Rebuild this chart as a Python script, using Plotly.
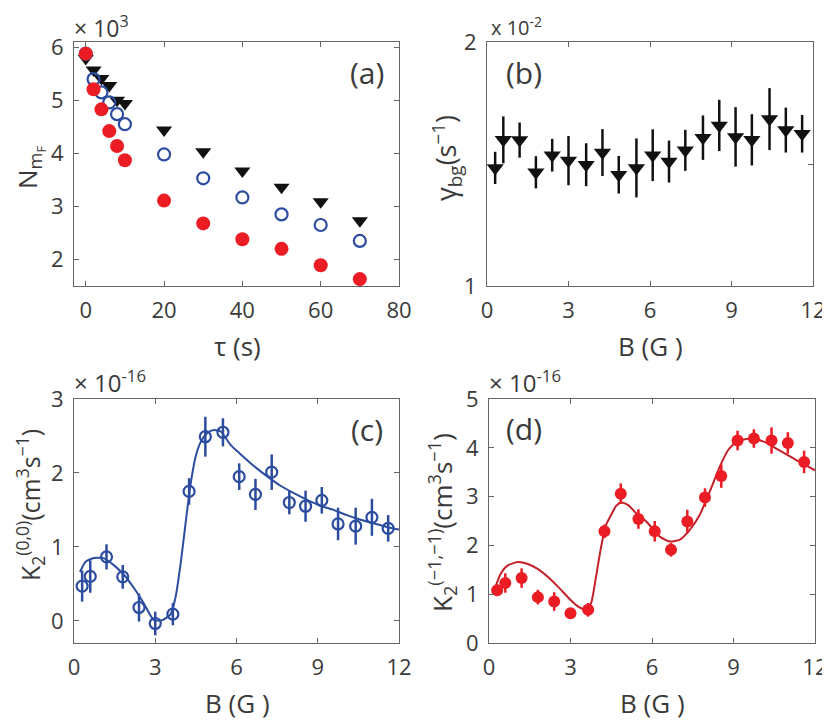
import plotly.graph_objects as go

# (a) atom number vs hold time
tau = [0, 2, 4, 6, 8, 10, 20, 30, 40, 50, 60, 70]
n_tri = [5.79, 5.57, 5.41, 5.28, 5.00, 4.94, 4.44, 4.03, 3.67, 3.36, 3.09, 2.73]
n_open = [5.88, 5.40, 5.15, 4.96, 4.74, 4.55, 3.98, 3.53, 3.17, 2.85, 2.65, 2.35]
n_fill = [5.88, 5.21, 4.83, 4.42, 4.14, 3.87, 3.11, 2.68, 2.38, 2.20, 1.89, 1.63]

# shared magnetic field values for (b), (c), (d)
B = [0.3, 0.6, 1.2, 1.8, 2.4, 3.0, 3.65, 4.25, 4.85, 5.5,
     6.1, 6.7, 7.3, 7.95, 8.55, 9.15, 9.75, 10.4, 11.0, 11.6]

# (b) background loss rate (x 1e-2)
gamma_bg = [1.484, 1.599, 1.598, 1.466, 1.536, 1.514, 1.497, 1.547, 1.456, 1.484,
            1.536, 1.510, 1.556, 1.608, 1.658, 1.611, 1.599, 1.684, 1.639, 1.624]
gamma_err = [0.066, 0.096, 0.072, 0.066, 0.067, 0.101, 0.088, 0.096, 0.077, 0.121,
             0.106, 0.086, 0.084, 0.091, 0.105, 0.122, 0.105, 0.127, 0.092, 0.077]

# (c) K2(0,0) (x 1e-16)
k00 = [0.47, 0.60, 0.865, 0.595, 0.18, -0.036, 0.09, 1.75, 2.49, 2.55,
       1.95, 1.71, 2.01, 1.60, 1.55, 1.63, 1.31, 1.28, 1.40, 1.25]
k00_err = [0.21, 0.22, 0.17, 0.16, 0.19, 0.16, 0.15, 0.18, 0.27, 0.19,
           0.18, 0.21, 0.24, 0.16, 0.21, 0.18, 0.22, 0.25, 0.25, 0.18]
fit_c_B = [0.22, 0.43, 0.74, 1.11, 1.48, 1.85, 2.22, 2.58, 2.95, 3.26, 3.57, 3.75,
           3.94, 4.12, 4.31, 4.49, 4.68, 4.92, 5.17, 5.42, 5.78, 6.13, 6.62, 7.11,
           7.61, 8.10, 8.59, 9.08, 9.58, 10.07, 10.56, 11.05, 11.55, 12.0]
fit_c = [0.66, 0.80, 0.85, 0.845, 0.75, 0.62, 0.44, 0.235, 0.01, 0.01, 0.09, 0.32,
         0.78, 1.32, 1.86, 2.22, 2.42, 2.54, 2.58, 2.56, 2.38, 2.26, 2.10, 1.96,
         1.83, 1.73, 1.64, 1.56, 1.50, 1.43, 1.37, 1.32, 1.27, 1.235]

# (d) K2(-1,-1) (x 1e-16)
k11 = [1.08, 1.23, 1.33, 0.94, 0.85, 0.61, 0.68, 2.29, 3.06, 2.54,
       2.29, 1.91, 2.49, 2.98, 3.42, 4.15, 4.19, 4.15, 4.10, 3.71]
k11_err = [0.12, 0.20, 0.20, 0.15, 0.19, 0.10, 0.14, 0.14, 0.21, 0.20,
           0.21, 0.14, 0.24, 0.19, 0.24, 0.20, 0.19, 0.27, 0.22, 0.23]
fit_d_B = [0.20, 0.44, 0.69, 1.06, 1.43, 1.79, 2.16, 2.53, 2.90, 3.27, 3.58, 3.76,
           3.94, 4.13, 4.31, 4.50, 4.68, 4.86, 5.11, 5.42, 5.79, 6.29, 6.66, 7.03,
           7.39, 7.76, 8.13, 8.50, 8.81, 9.12, 9.48, 9.85, 10.22, 10.59, 10.96,
           11.33, 11.70, 12.0]
fit_d = [1.09, 1.43, 1.59, 1.66, 1.62, 1.52, 1.36, 1.16, 0.94, 0.75, 0.68, 0.82,
         1.36, 1.98, 2.42, 2.63, 2.81, 2.88, 2.83, 2.66, 2.49, 2.18, 2.08, 2.12,
         2.32, 2.63, 3.11, 3.62, 3.96, 4.13, 4.18, 4.17, 4.10, 3.98, 3.86,
         3.74, 3.63, 3.54]

# the page body puts the figure 8 px in from the window corner
PAD = 8
W, H = 830, 721
BLUE = '#2c4c9f'
RED = '#ec1c24'
DRED = '#c4202a'
FONT = 'Open Sans'
TXT = '#3a3a3a'


def px(x):
    return (x - PAD) / W


def py(y):
    return 1 - (y - PAD) / H


fig = go.Figure()

# (a)
fig.add_trace(go.Scatter(x=tau, y=n_tri, mode='markers', xaxis='x', yaxis='y',
                         marker=dict(symbol='triangle-down', size=14, color='#111')))
fig.add_trace(go.Scatter(x=tau, y=n_open, mode='markers', xaxis='x', yaxis='y',
                         marker=dict(symbol='circle-open', size=12, color=BLUE,
                                     line=dict(width=2.2, color=BLUE))))
fig.add_trace(go.Scatter(x=tau, y=n_fill, mode='markers', xaxis='x', yaxis='y',
                         marker=dict(symbol='circle', size=14, color=RED)))

# (b)
fig.add_trace(go.Scatter(x=B, y=gamma_bg, mode='markers', xaxis='x2', yaxis='y2',
                         marker=dict(symbol='triangle-down', size=15, color='#111'),
                         error_y=dict(type='data', array=gamma_err, width=0,
                                      thickness=2.5, color='#111')))

# (c)
fig.add_trace(go.Scatter(x=fit_c_B, y=fit_c, mode='lines', xaxis='x3', yaxis='y3',
                         line=dict(color=BLUE, width=2, shape='spline', smoothing=0.6)))
fig.add_trace(go.Scatter(x=B, y=k00, mode='markers', xaxis='x3', yaxis='y3',
                         marker=dict(symbol='circle-open', size=11, color=BLUE,
                                     line=dict(width=2.2, color=BLUE)),
                         error_y=dict(type='data', array=k00_err, width=0,
                                      thickness=2.5, color=BLUE)))

# (d)
fig.add_trace(go.Scatter(x=fit_d_B, y=fit_d, mode='lines', xaxis='x4', yaxis='y4',
                         line=dict(color=DRED, width=2, shape='spline', smoothing=0.6)))
fig.add_trace(go.Scatter(x=B, y=k11, mode='markers', xaxis='x4', yaxis='y4',
                         marker=dict(symbol='circle', size=12, color=RED),
                         error_y=dict(type='data', array=k11_err, width=0,
                                      thickness=2.5, color=RED)))

ax = dict(showgrid=False, zeroline=False, showline=True, mirror='allticks',
          linecolor='#666', linewidth=1.2, ticks='inside', ticklen=5,
          tickcolor='#666', automargin=False,
          tickfont=dict(family=FONT, size=22, color=TXT))

fig.update_layout(
    width=W, height=H, showlegend=False,
    margin=dict(l=0, r=0, t=0, b=0, pad=0, autoexpand=False),
    plot_bgcolor='white', paper_bgcolor='white',
    xaxis=dict(ax, domain=[px(74), px(399)], range=[-3, 80], tickvals=[0, 20, 40, 60, 80],
               anchor='y', ticklabelstandoff=4),
    yaxis=dict(ax, domain=[py(286), py(42)], range=[1.5, 6.1], tickvals=[2, 3, 4, 5, 6],
               anchor='x', ticklabelstandoff=5),
    xaxis2=dict(ax, domain=[px(487), px(813)], range=[0, 12], tickvals=[0, 3, 6, 9, 12],
                anchor='y2', ticklabelstandoff=4),
    yaxis2=dict(ax, domain=[py(286), py(42)], range=[1, 2], tickvals=[1, 1.5, 2],
                ticktext=['1', '', '2'], anchor='x2', ticklabelstandoff=5),
    xaxis3=dict(ax, domain=[px(74), px(399)], range=[0, 12], tickvals=[0, 3, 6, 9, 12],
                anchor='y3', ticklabelstandoff=4),
    yaxis3=dict(ax, domain=[py(643), py(399)], range=[-0.3, 3], tickvals=[0, 1, 2, 3],
                anchor='x3', ticklabelstandoff=5),
    xaxis4=dict(ax, domain=[px(489), px(815)], range=[0, 12], tickvals=[0, 3, 6, 9, 12],
                anchor='y4', ticklabelstandoff=4),
    yaxis4=dict(ax, domain=[py(643), py(399)], range=[0, 5], tickvals=[0, 1, 2, 3, 4, 5],
                anchor='x4', ticklabelstandoff=5),
)


def note(text, x, y, size, angle=0, xanchor='center'):
    fig.add_annotation(text=text, x=px(x), y=py(y), xref='paper', yref='paper',
                       showarrow=False, textangle=angle, xanchor=xanchor, yanchor='middle',
                       font=dict(family=FONT, size=size, color=TXT))


# exponent labels
note('× 10<sup>3</sup>', 72, 27, 23, xanchor='left')
note('x 10<sup>-2</sup>', 489, 27, 20, xanchor='left')
note('× 10<sup>-16</sup>', 72, 381, 24, xanchor='left')
note('× 10<sup>-16</sup>', 487, 381, 24, xanchor='left')

# panel labels
note('(a)', 367, 73, 30)
note('(b)', 524, 73, 30)
note('(c)', 367, 429, 30)
note('(d)', 524, 428, 30)

# axis titles
note('τ (s)', 237, 346, 26)
note('B (G )', 650, 346, 26)
note('B (G )', 237, 703, 26)
note('B (G )', 652, 703, 26)
note('N<sub>m<sub>F</sub></sub>', 29, 168, 26, angle=-90)
note('γ<sub>bg</sub>(s<sup>−1</sup>)', 446, 158, 27, angle=-90)
note('K<sub>2</sub><sup>(0,0)</sup>(cm<sup>3</sup>s<sup>−1</sup>)', 30, 505, 25, angle=-90)
note('K<sub>2</sub><sup>(−1,−1)</sup>(cm<sup>3</sup>s<sup>−1</sup>)', 442, 523, 26, angle=-90)

fig.write_html("out.html")
